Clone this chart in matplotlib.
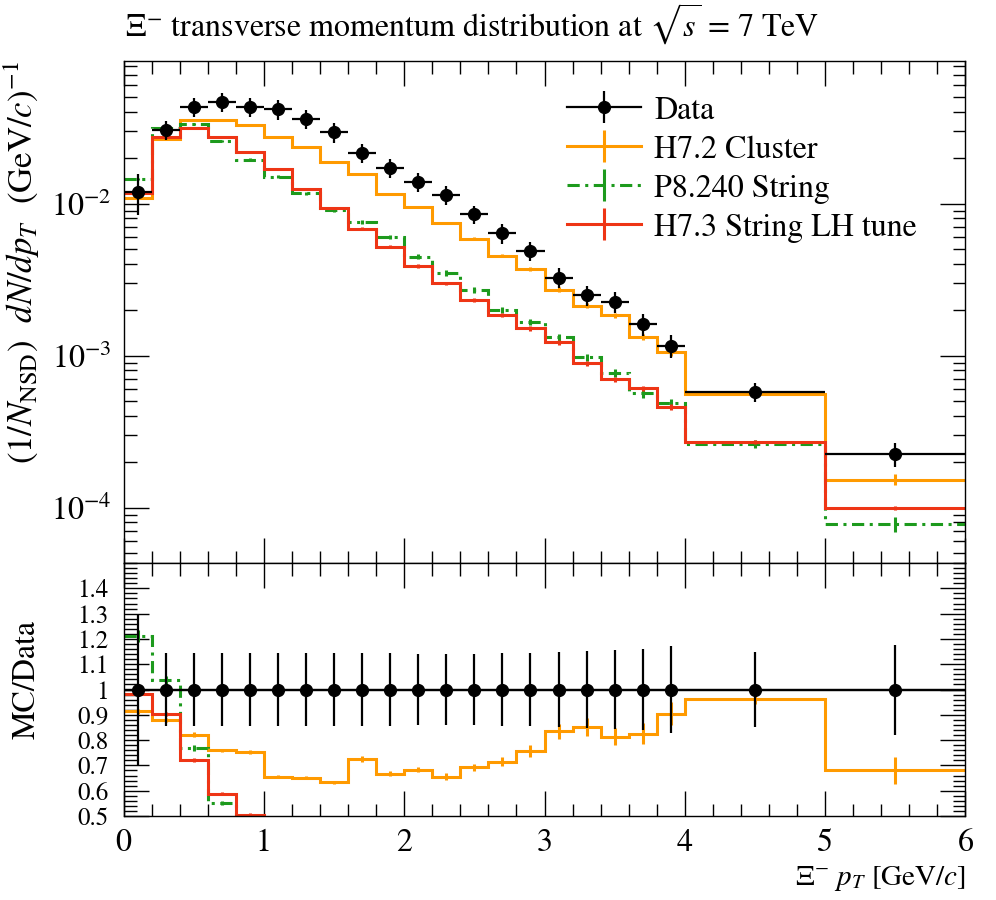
import numpy as np
import matplotlib
matplotlib.use('Agg')
import matplotlib.pyplot as plt
from matplotlib.ticker import MultipleLocator, LogLocator, FixedLocator, FuncFormatter, NullFormatter

plt.rcParams['font.family'] = ['STIXGeneral', 'DejaVu Serif']
plt.rcParams['mathtext.fontset'] = 'stix'

# binning in pT [GeV/c]
bin_edges = [0.0, 0.2, 0.4, 0.6, 0.8, 1.0, 1.2, 1.4, 1.6, 1.8, 2.0,
             2.2, 2.4, 2.6, 2.8, 3.0, 3.2, 3.4, 3.6, 3.8, 4.0, 5.0, 6.0]

# measured spectrum and relative uncertainty
data_y = [0.01196, 0.03045, 0.04332, 0.04674, 0.04332, 0.04166, 0.03596, 0.02940,
          0.02159, 0.01725, 0.01391, 0.01137, 0.00849, 0.00637, 0.00489, 0.00326,
          0.00250, 0.00226, 0.00161, 0.00116, 0.000578, 0.000225]
data_relerr = [0.30, 0.144, 0.144, 0.144, 0.144, 0.144, 0.144, 0.144, 0.144, 0.144,
               0.140, 0.140, 0.142, 0.144, 0.146, 0.150, 0.154, 0.157, 0.161, 0.171,
               0.148, 0.178]

# generators
h72_y = [0.01093, 0.02677, 0.03561, 0.03548, 0.03266, 0.02729, 0.02341, 0.01864,
         0.01567, 0.01151, 0.00950, 0.00745, 0.00589, 0.00455, 0.00370, 0.00272,
         0.00213, 0.00184, 0.00133, 0.00105, 0.000557, 0.000153]
h72_relerr = [0.01, 0.01, 0.01, 0.01, 0.01, 0.01, 0.01, 0.01, 0.015, 0.015, 0.015,
              0.02, 0.02, 0.025, 0.03, 0.035, 0.04, 0.04, 0.05, 0.05, 0.02, 0.08]

p8_y = [0.01450, 0.03160, 0.03334, 0.02578, 0.01948, 0.01501, 0.01167, 0.00906,
        0.00752, 0.00599, 0.00447, 0.00350, 0.00270, 0.00199, 0.00167, 0.00132,
        0.000973, 0.000770, 0.000564, 0.000485, 0.000262, 0.0000780]
p8_relerr = [0.02, 0.015, 0.015, 0.015, 0.02, 0.02, 0.025, 0.025, 0.03, 0.03, 0.035,
             0.04, 0.04, 0.045, 0.05, 0.055, 0.06, 0.065, 0.07, 0.07, 0.06, 0.12]

h73_y = [0.01175, 0.02751, 0.03124, 0.02751, 0.02192, 0.01687, 0.01240, 0.00934,
         0.00685, 0.00521, 0.00388, 0.00299, 0.00232, 0.00185, 0.00151, 0.00122,
         0.000889, 0.000697, 0.000608, 0.000460, 0.000271, 0.0001000]
h73_relerr = [0.01, 0.01, 0.01, 0.01, 0.01, 0.015, 0.015, 0.02, 0.02, 0.02, 0.025,
              0.025, 0.03, 0.03, 0.035, 0.035, 0.04, 0.04, 0.045, 0.045, 0.035, 0.03]

edges = np.array(bin_edges)
centers = 0.5 * (edges[1:] + edges[:-1])
halfw = 0.5 * (edges[1:] - edges[:-1])
data = np.array(data_y)
data_err = data * np.array(data_relerr)

mc_sets = [
    ('H7.2 Cluster', np.array(h72_y), np.array(h72_relerr), '#ff9a00', '-'),
    ('P8.240 String', np.array(p8_y), np.array(p8_relerr), '#1d9a1d', (0, (4, 1.8, 1, 1.8))),
    ('H7.3 String LH tune', np.array(h73_y), np.array(h73_relerr), '#ee3515', '-'),
]

fs = 23
lw = 2.2

fig = plt.figure(figsize=(9.96, 9.0), dpi=100)
ax1 = fig.add_axes([0.1241, 0.3744, 0.8452, 0.5578])
ax2 = fig.add_axes([0.1241, 0.0933, 0.8452, 0.2811])

# main panel
handles = []
data_proxy = ax1.errorbar([np.nan], [np.nan], yerr=[np.nan], fmt='o-', color='k',
                          ms=8.5, lw=1.6, elinewidth=1.6, label='Data')
handles.append(data_proxy)
for name, vals, rel, col, ls in mc_sets:
    ax1.stairs(vals, edges, baseline=None, color=col, lw=lw, ls=ls, zorder=2)
    ax1.errorbar(centers, vals, yerr=vals * rel, fmt='none', ecolor=col,
                 elinewidth=lw, zorder=2)
    h = ax1.errorbar([np.nan], [np.nan], yerr=[np.nan], color=col, ls=ls,
                     lw=lw, elinewidth=lw, label=name)
    handles.append(h)
ax1.errorbar(centers, data, xerr=halfw, yerr=data_err, fmt='o', color='k',
             ms=8.5, elinewidth=1.6, capsize=0, zorder=5)

ax1.set_yscale('log')
ax1.set_xlim(0, 6)
ax1.set_ylim(4.32e-5, 0.0866)
ax1.xaxis.set_major_locator(MultipleLocator(1))
ax1.xaxis.set_minor_locator(MultipleLocator(0.2))
ax1.yaxis.set_minor_locator(LogLocator(base=10, subs=np.arange(2, 10)))
ax1.yaxis.set_minor_formatter(NullFormatter())
ax1.tick_params(labelbottom=False)
ax1.set_ylabel(r'$(1/N_{\mathrm{NSD}})\;\;\,dN/dp_T\;\;\,(\mathrm{GeV}/c)^{-1}$',
               fontsize=25, ha='right')
ax1.yaxis.set_label_coords(-0.097, 1.0)

ax1.legend(handles=handles, loc='upper left', bbox_to_anchor=(0.527, 0.93),
           frameon=False, fontsize=fs, borderpad=0, borderaxespad=0,
           handlelength=2.3, handletextpad=0.42, labelspacing=0.3)

# ratio panel
ax2.axhline(1.0, color='k', lw=1.6, zorder=4)
for name, vals, rel, col, ls in mc_sets:
    r = vals / data
    ax2.stairs(r, edges, baseline=None, color=col, lw=lw, ls=ls, zorder=2)
    ax2.errorbar(centers, r, yerr=r * rel, fmt='none', ecolor=col,
                 elinewidth=lw, zorder=2)
ax2.errorbar(centers, np.ones_like(data), xerr=halfw, yerr=np.array(data_relerr),
             fmt='o', color='k', ms=8.5, elinewidth=1.6, capsize=0, zorder=5)

ax2.set_xlim(0, 6)
ax2.set_ylim(0.5, 1.5)
ax2.xaxis.set_major_locator(MultipleLocator(1))
ax2.xaxis.set_minor_locator(MultipleLocator(0.2))
ax2.yaxis.set_major_locator(FixedLocator([0.5, 0.6, 0.7, 0.8, 0.9, 1.0, 1.1, 1.2, 1.3, 1.4]))
ax2.yaxis.set_minor_locator(MultipleLocator(0.02))
ax2.yaxis.set_major_formatter(FuncFormatter(lambda v, p: f'{v:g}'))
ax2.set_ylabel('MC/Data', fontsize=fs, ha='right')
ax2.yaxis.set_label_coords(-0.097, 0.775)
ax2.set_xlabel(r'$\Xi^{-}\ p_T$ [GeV/$c$]', fontsize=21, ha='right', va='center')
ax2.xaxis.set_label_coords(1.0, -0.245)

for ax in (ax1, ax2):
    ax.tick_params(which='both', direction='in', top=True, right=True,
                   labelsize=fs, width=1.0)
    ax.tick_params(which='major', length=18, pad=9)
    ax.tick_params(which='minor', length=9)
    for s in ax.spines.values():
        s.set_linewidth(1.0)
ax2.tick_params(axis='y', which='major', labelsize=18, pad=11)

fig.text(125 / 996, 1 - 24 / 900,
         r'$\Xi^{-}$ transverse momentum distribution at $\sqrt{s}$ = 7 TeV',
         fontsize=fs, ha='left', va='center')

fig.savefig('out.png', dpi=100)
